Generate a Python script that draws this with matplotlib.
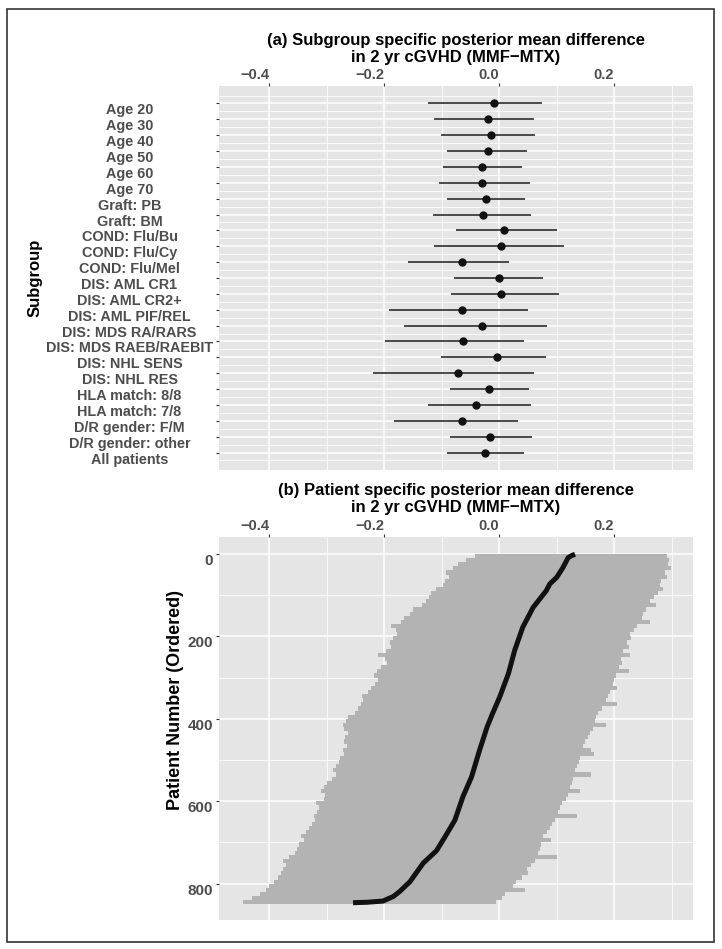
import numpy as np
import matplotlib
matplotlib.use('Agg')
import matplotlib.pyplot as plt
import matplotlib.transforms as mtransforms
from matplotlib.patches import Rectangle

plt.rcParams['font.family'] = ['Liberation Sans', 'DejaVu Sans']
plt.rcParams['font.weight'] = 'bold'

# x axis shared by both panels
xticks = [-0.4, -0.2, 0.0, 0.2]
xtick_labels = ['\u22120.4', '\u22120.2', '0.0', '0.2']

# (a) subgroup posterior mean difference with intervals
subgroups = ['Age 20', 'Age 30', 'Age 40', 'Age 50', 'Age 60', 'Age 70',
             'Graft: PB', 'Graft: BM',
             'COND: Flu/Bu', 'COND: Flu/Cy', 'COND: Flu/Mel',
             'DIS: AML CR1', 'DIS: AML CR2+', 'DIS: AML PIF/REL',
             'DIS: MDS RA/RARS', 'DIS: MDS RAEB/RAEBIT',
             'DIS: NHL SENS', 'DIS: NHL RES',
             'HLA match: 8/8', 'HLA match: 7/8',
             'D/R gender: F/M', 'D/R gender: other', 'All patients']
sub_mean = [-0.009, -0.019, -0.015, -0.020, -0.030, -0.029, -0.023, -0.028,
            0.008, 0.004, -0.065, -0.001, 0.004, -0.064, -0.030, -0.062,
            -0.003, -0.071, -0.018, -0.041, -0.065, -0.016, -0.024]
sub_lo = [-0.123, -0.113, -0.101, -0.091, -0.098, -0.104, -0.091, -0.115,
          -0.075, -0.114, -0.159, -0.078, -0.084, -0.192, -0.165, -0.198,
          -0.101, -0.220, -0.086, -0.123, -0.183, -0.085, -0.090]
sub_hi = [0.074, 0.060, 0.062, 0.049, 0.040, 0.054, 0.045, 0.056,
          0.100, 0.112, 0.017, 0.077, 0.104, 0.051, 0.083, 0.043,
          0.082, 0.061, 0.052, 0.056, 0.032, 0.057, 0.043]

n_patients = 846
patient_bin = np.arange(5, 850, 10)
pat_lo = [-0.042, -0.058, -0.071, -0.080, -0.092, -0.088, -0.094, -0.097, -0.110, -0.118,
          -0.122, -0.128, -0.134, -0.150, -0.155, -0.165, -0.170, -0.188, -0.180, -0.178,
          -0.185, -0.190, -0.188, -0.196, -0.210, -0.198, -0.195, -0.205, -0.212, -0.218,
          -0.210, -0.216, -0.222, -0.228, -0.238, -0.236, -0.240, -0.245, -0.250, -0.262,
          -0.266, -0.272, -0.270, -0.262, -0.268, -0.270, -0.265, -0.272, -0.270, -0.276,
          -0.278, -0.284, -0.288, -0.284, -0.290, -0.300, -0.305, -0.310, -0.302, -0.304,
          -0.318, -0.314, -0.316, -0.322, -0.320, -0.325, -0.330, -0.336, -0.345, -0.340,
          -0.348, -0.352, -0.355, -0.365, -0.375, -0.370, -0.375, -0.380, -0.385, -0.392,
          -0.400, -0.405, -0.415, -0.430, -0.445]
pat_hi = [0.291, 0.296, 0.294, 0.298, 0.288, 0.292, 0.282, 0.279, 0.285, 0.276,
          0.270, 0.262, 0.272, 0.256, 0.250, 0.248, 0.262, 0.240, 0.234, 0.228,
          0.230, 0.222, 0.226, 0.215, 0.228, 0.212, 0.214, 0.208, 0.226, 0.204,
          0.200, 0.198, 0.205, 0.193, 0.190, 0.186, 0.205, 0.178, 0.172, 0.169,
          0.166, 0.185, 0.163, 0.158, 0.155, 0.150, 0.146, 0.160, 0.165, 0.140,
          0.138, 0.135, 0.132, 0.160, 0.129, 0.126, 0.123, 0.140, 0.119, 0.117,
          0.110, 0.106, 0.102, 0.135, 0.097, 0.092, 0.088, 0.084, 0.077, 0.090,
          0.073, 0.071, 0.068, 0.100, 0.062, 0.055, 0.048, 0.050, 0.039, 0.030,
          0.024, 0.045, 0.010, 0.005, -0.005]
curve_patient = [1, 4, 9, 33, 57, 73, 89, 130, 178, 234, 291, 347, 389, 420,
                 476, 541, 589, 646, 686, 720, 750, 795, 819, 831, 842, 845, 846]
curve_mean = [0.132, 0.126, 0.120, 0.111, 0.100, 0.088, 0.082, 0.059, 0.041, 0.027,
              0.016, 0.001, -0.012, -0.021, -0.034, -0.048, -0.063, -0.077,
              -0.094, -0.109, -0.132, -0.155, -0.173, -0.184, -0.202, -0.230, -0.254]

W, H = 722, 949
fig = plt.figure(figsize=(W / 100, H / 100), dpi=100)
ax1 = fig.add_axes([219 / W, 1 - 470 / H, 474 / W, 384 / H])
ax2 = fig.add_axes([219 / W, 1 - 920 / H, 474 / W, 383 / H])

label_gray = '#4d4d4d'
down = mtransforms.ScaledTranslation(0, -5.5 / 100, fig.dpi_scale_trans)


def style_panel(ax):
    ax.set_facecolor('#e5e5e5')
    for s in ax.spines.values():
        s.set_visible(False)
    ax.set_xlim(-0.487, 0.337)
    ax.set_xticks(xticks)
    ax.set_xticklabels(xtick_labels)
    ax.set_xticks([-0.3, -0.1, 0.1, 0.3], minor=True)
    ax.xaxis.tick_top()
    ax.tick_params(which='major', colors='#333333', length=2.2, width=0.8,
                   labelcolor=label_gray)
    ax.tick_params(axis='x', labelsize=10.5, pad=0.8)
    ax.tick_params(which='minor', length=0)
    ax.grid(which='major', color='white', lw=1.1)
    ax.grid(which='minor', color='white', lw=0.55)
    ax.set_axisbelow(True)
    for lbl in ax.get_xticklabels():
        lbl.set_ha('right')


# panel (a)
style_panel(ax1)
rows = np.arange(1, len(subgroups) + 1)
ax1.hlines(rows, sub_lo, sub_hi, color='#1a1a1a', lw=1.1)
ax1.plot(sub_mean, rows, 'o', color='#111111', ms=5)
ax1.set_ylim(len(subgroups) + 1.1, -0.1)
ax1.set_yticks(rows)
ax1.set_yticklabels(subgroups)
ax1.set_yticks(np.arange(0.5, len(subgroups) + 1, 1.0), minor=True)
ax1.tick_params(axis='y', labelsize=10.4, pad=62.2)
for lbl in ax1.get_yticklabels():
    lbl.set_ha('center')
    lbl.set_transform(lbl.get_transform() + down)

# panel (b)
style_panel(ax2)
ax2.barh(patient_bin, np.array(pat_hi) - np.array(pat_lo), left=pat_lo,
         height=10, color='#b3b3b3', lw=0)
ax2.plot(curve_mean, curve_patient, color='#111111', lw=3.6,
         solid_capstyle='butt', solid_joinstyle='round')
ax2.set_ylim(n_patients + 42, -41)
ax2.set_yticks([0, 200, 400, 600, 800])
ax2.set_yticks([100, 300, 500, 700], minor=True)
ax2.tick_params(axis='y', labelsize=11, pad=2)
for lbl in ax2.get_yticklabels():
    lbl.set_transform(lbl.get_transform() + down)

# titles and axis titles
fig.text(456 / W, 1 - 49 / H,
         '(a) Subgroup specific posterior mean difference\nin 2 yr cGVHD (MMF\u2212MTX)',
         ha='center', va='center', fontsize=12, linespacing=1.12)
fig.text(456 / W, 1 - 499 / H,
         '(b) Patient specific posterior mean difference\nin 2 yr cGVHD (MMF\u2212MTX)',
         ha='center', va='center', fontsize=12, linespacing=1.12)
fig.text(35 / W, 1 - 278 / H, 'Subgroup', rotation=90, ha='center', va='center',
         fontsize=12)
fig.text(176 / W, 1 - 700 / H, 'Patient Number (Ordered)', rotation=90,
         ha='center', va='center', fontsize=13)

fig.patches.append(Rectangle((7 / W, 1 - 942 / H), 707 / W, 933 / H,
                             transform=fig.transFigure, fill=False,
                             ec='#333333', lw=1.2))

fig.savefig('out.png', dpi=100)
